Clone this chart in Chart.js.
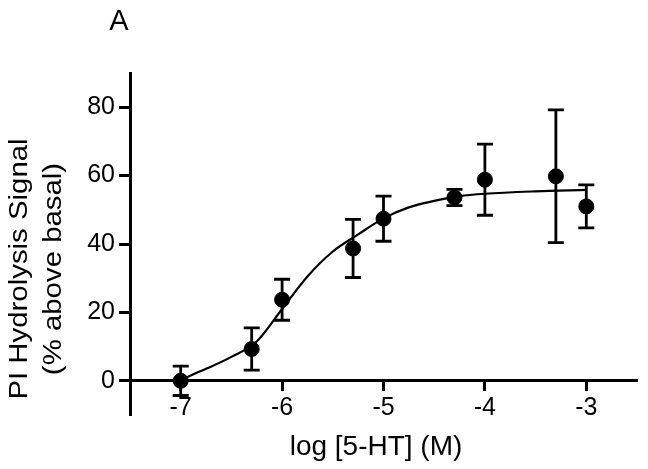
<!DOCTYPE html>
<html>
<head>
<meta charset="utf-8">
<script src="https://cdn.jsdelivr.net/npm/chart.js@4.4.1/dist/chart.umd.min.js"></script>
<style>
  html, body { margin: 0; padding: 0; background: #fff; }
  #wrap { width: 648px; height: 469px; }
</style>
</head>
<body>
<div id="wrap"><canvas id="myChart" width="648" height="469"></canvas></div>
<script>
// measured points: log[5-HT], % above basal, error
const logDose = [-7, -6.3, -6, -5.3, -5, -4.3, -4, -3.3, -3];
const response = [0, 9.3, 23.7, 38.7, 47.4, 53.6, 58.8, 59.8, 51];
const errors = [4.3, 6.2, 6.0, 8.5, 6.6, 2.4, 10.4, 19.4, 6.3];

// fitted curve
const curveX = [-7, -6.75, -6.5, -6.25, -6, -5.75, -5.5, -5.25, -5, -4.75, -4.5, -4.25, -4, -3.5, -3];
const curveY = [0.3, 3.5, 7.0, 11.5, 21, 30.5, 37.8, 42.8, 47.5, 50.7, 52.6, 54.0, 54.7, 55.4, 55.8];

const xTicks = [-7, -6, -5, -4, -3];
const yTicks = [0, 20, 40, 60, 80];

const FONT = '"Liberation Sans", Arial, Helvetica, sans-serif';

const pointData = logDose.map((x, i) => ({x: x, y: response[i], err: errors[i]}));
const curveData = curveX.map((x, i) => ({x: x, y: curveY[i]}));

const errorBars = {
  id: 'errorBars',
  afterDatasetsDraw(chart) {
    const ctx = chart.ctx;
    const xs = chart.scales.x, ys = chart.scales.y;
    ctx.save();
    ctx.strokeStyle = '#000';
    ctx.lineWidth = 2.8;
    pointData.forEach(p => {
      const px = xs.getPixelForValue(p.x);
      const top = ys.getPixelForValue(p.y + p.err);
      const bot = ys.getPixelForValue(p.y - p.err);
      ctx.beginPath();
      ctx.moveTo(px, top); ctx.lineTo(px, bot);
      ctx.moveTo(px - 8, top); ctx.lineTo(px + 8, top);
      ctx.moveTo(px - 8, bot); ctx.lineTo(px + 8, bot);
      ctx.stroke();
    });
    ctx.restore();
  }
};

const texts = {
  id: 'texts',
  afterDraw(chart) {
    const ctx = chart.ctx;
    ctx.save();
    ctx.fillStyle = '#000';
    ctx.textAlign = 'center';
    ctx.textBaseline = 'middle';
    ctx.font = '29px ' + FONT;
    ctx.fillText('A', 119, 22);
    ctx.font = '28px ' + FONT;
    ctx.fillText('log [5-HT] (M)', 376, 447);
    // y title, rotated
    ctx.font = '26px ' + FONT;
    ctx.translate(0, 269);
    ctx.rotate(-Math.PI / 2);
    ctx.scale(1.13, 1);
    ctx.fillText('PI Hydrolysis Signal', 0, 20);
    ctx.fillText('(% above basal)', 0, 54);
    ctx.restore();
  }
};

const config = {
  type: 'scatter',
  data: {
    datasets: [
      {
        label: 'fit',
        data: curveData,
        showLine: true,
        borderColor: '#000',
        borderWidth: 2.2,
        pointRadius: 0,
        cubicInterpolationMode: 'monotone',
        fill: false
      },
      {
        label: '5-HT',
        data: pointData,
        backgroundColor: '#000',
        borderColor: '#000',
        pointRadius: 7.5,
        pointHoverRadius: 7.5
      }
    ]
  },
  options: {
    responsive: false,
    animation: false,
    events: [],
    layout: { padding: { top: 73, right: 11, bottom: 54, left: 0 } },
    plugins: {
      legend: { display: false },
      tooltip: { enabled: false }
    },
    scales: {
      x: {
        type: 'linear',
        position: { y: 0 },
        min: -7.5,
        max: -2.5,
        afterBuildTicks(scale) { scale.ticks = xTicks.map(v => ({value: v})); },
        grid: { drawOnChartArea: false, drawTicks: true, tickLength: 9, tickWidth: 3, color: '#000' },
        border: { display: true, width: 3, color: '#000' },
        ticks: { color: '#000', padding: 3, maxRotation: 0, font: { family: FONT, size: 25 } }
      },
      y: {
        type: 'linear',
        position: 'left',
        min: -10,
        max: 90,
        afterBuildTicks(scale) { scale.ticks = yTicks.map(v => ({value: v})); },
        afterFit(scale) { scale.width = 130; },
        grid: { drawOnChartArea: false, drawTicks: true, tickLength: 11, tickWidth: 3, color: '#000' },
        border: { display: true, width: 3, color: '#000' },
        ticks: { color: '#000', padding: 4, font: { family: FONT, size: 25 } }
      }
    }
  },
  plugins: [errorBars, texts]
};

const myChart = new Chart(document.getElementById('myChart'), config);
</script>
</body>
</html>
